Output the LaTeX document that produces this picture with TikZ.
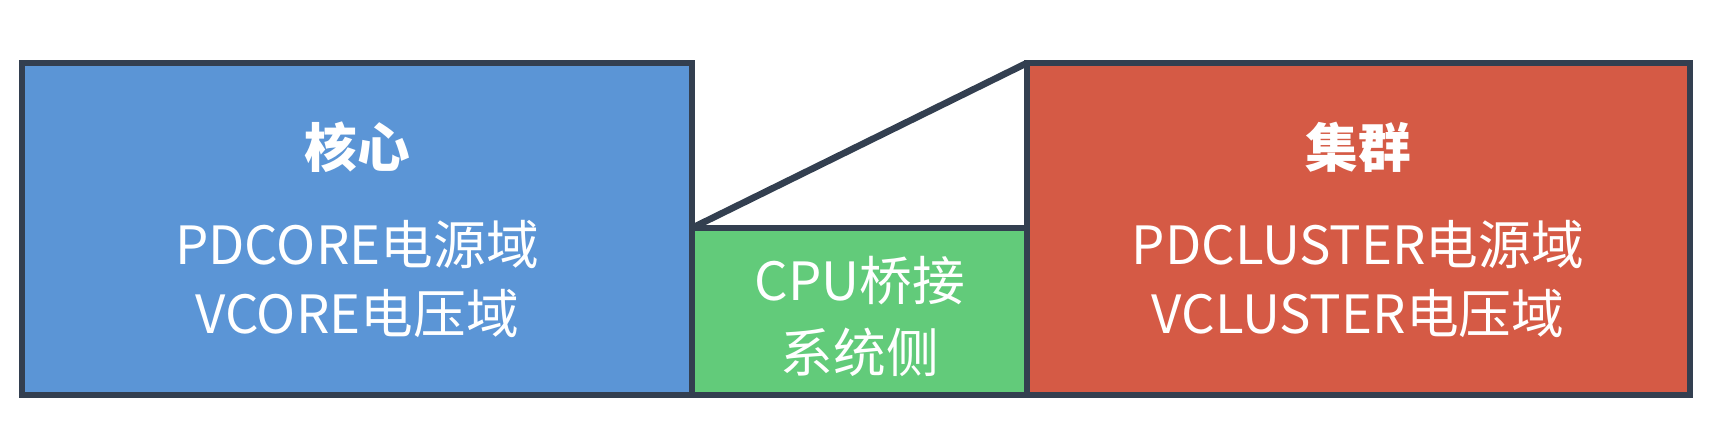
\documentclass[tikz,border=0pt]{standalone}
\usepackage{fontspec}
\setmainfont{Noto Sans CJK SC}
\begin{document}
\begin{tikzpicture}[
    box/.style={draw=boxline, line width=1.9pt},
    lbl/.style={text=white, font=\fontsize{15}{19.5}\selectfont, align=center}
  ]
    \definecolor{boxline}{HTML}{333F50}
    \definecolor{coreblue}{HTML}{5B95D6}
    \definecolor{bridgegreen}{HTML}{62CB7A}
    \definecolor{clusterred}{HTML}{D55A45}
    \useasboundingbox (0,0) rectangle (17.26,4.24);

    % 方框
    \filldraw[box, fill=coreblue] (0.22,0.29) rectangle (6.92,3.61);
    \filldraw[box, fill=bridgegreen] (6.92,0.29) rectangle (10.27,1.96);
    \filldraw[box, fill=clusterred] (10.27,0.29) rectangle (16.90,3.61);
    \coordinate (brtop) at (6.92,1.96);
    \coordinate (cltop) at (10.27,3.61);
    \draw[box] (brtop) -- (cltop);

    % 文字
    \node[lbl, font=\fontsize{15}{19.5}\selectfont\bfseries] (coret) at (3.57,2.77) {核心};
    \node[lbl] (core) at (3.57,1.45) {PDCORE电源域\\VCORE电压域};
    \node[lbl, font=\fontsize{15}{21}\selectfont\bfseries] (clt) at (13.58,2.77) {集群};
    \node[lbl] (cl) at (13.58,1.45) {PDCLUSTER电源域\\VCLUSTER电压域};
    \node[lbl, font=\fontsize{15}{20.5}\selectfont] (br) at (8.6,1.08) {CPU桥接\\系统侧};
  \end{tikzpicture}
\end{document}
